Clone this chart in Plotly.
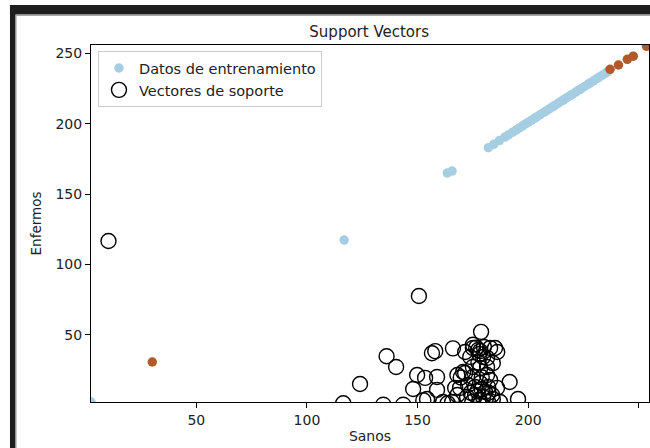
import plotly.graph_objects as go

# Training samples, split by class
clase0_x = [2.4, 116.8, 163.4, 165.6, 182.0, 184.5, 187.0, 189.5, 191.0, 193.0, 194.5, 196.0,
            197.5, 199.0, 200.0, 201.5, 203.0, 204.0, 205.5, 207.0, 208.0, 209.5, 211.0, 212.0,
            213.5, 215.0, 216.0, 217.5, 219.0, 220.0, 221.5, 223.0, 224.0, 225.5, 227.0, 228.0,
            229.5, 231.0, 232.0, 233.5, 235.0, 236.0]
clase0_y = [2.4, 117.4, 165.0, 166.4, 183.0, 185.5, 188.0, 190.5, 192.0, 194.0, 195.5, 197.0,
            198.5, 200.0, 201.0, 202.5, 204.0, 205.0, 206.5, 208.0, 209.0, 210.5, 212.0, 213.0,
            214.5, 216.0, 217.0, 218.5, 220.0, 221.0, 222.5, 224.0, 225.0, 226.5, 228.0, 229.0,
            230.5, 232.0, 233.0, 234.5, 236.0, 237.0]

clase1_x = [30.1, 237.0, 240.8, 244.8, 247.5, 253.5]
clase1_y = [30.8, 238.6, 241.7, 245.7, 248.0, 255.0]

# Support vectors
sv_x = [10.3, 150.6, 124.0, 116.4, 136.0, 140.3, 134.5, 143.5, 149.8, 153.4, 158.8, 148.0,
        158.8, 154.3, 152.6, 156.5, 158.0, 166.0, 178.7, 191.6, 195.4, 163.6, 168.0, 170.6,
        167.0, 168.0, 171.5, 175.0, 177.4, 178.3, 182.8, 185.0, 186.0, 173.8, 179.6, 181.4,
        175.0, 176.5, 180.0, 178.0, 175.0, 178.3, 181.4, 169.5, 171.5, 175.0, 181.4, 182.8,
        169.2, 172.8, 178.3, 181.9, 185.9, 172.4, 176.0, 179.6, 183.7, 174.7, 181.9, 187.3,
        165.6, 161.5, 177.0, 180.5, 178.0, 184.0, 176.0, 179.0, 182.0, 174.0, 179.0, 177.5,
        184.0]
sv_y = [116.7, 77.7, 15.2, 1.5, 34.9, 27.3, 0.5, 0.5, 21.6, 19.5, 20.2, 11.6,
        11.0, 4.5, 3.6, 37.0, 38.5, 40.5, 52.2, 16.6, 4.5, 1.5, 21.6, 23.7,
        12.4, 7.4, 37.9, 40.7, 39.3, 38.5, 40.7, 40.7, 37.9, 34.4, 34.4, 33.7,
        43.0, 41.0, 41.5, 36.5, 27.3, 26.6, 27.3, 19.8, 23.0, 20.2, 21.6, 18.0,
        12.4, 14.5, 15.9, 13.1, 12.4, 6.0, 7.4, 6.0, 7.4, 2.4, 2.4, 2.4,
        2.4, 2.4, 10.0, 9.5, 4.0, 4.5, 13.0, 11.5, 9.0, 9.0, 20.0, 30.5,
        30.0]

x_ticks = [50, 100, 150, 200, 250]
y_ticks = [50, 100, 150, 200, 250]

FONT = "DejaVu Sans"

fig = go.Figure()
fig.add_trace(go.Scatter(
    x=clase0_x, y=clase0_y, mode="markers", name="Datos de entrenamiento",
    marker=dict(color="#a6cee3", size=9.5, line=dict(width=0)),
))
fig.add_trace(go.Scatter(
    x=clase1_x, y=clase1_y, mode="markers", name="Datos de entrenamiento",
    showlegend=False,
    marker=dict(color="#b15928", size=9.5, line=dict(width=0)),
))
fig.add_trace(go.Scatter(
    x=sv_x, y=sv_y, mode="markers", name="Vectores de soporte",
    marker=dict(symbol="circle-open", color="black", size=15, line=dict(width=1.4)),
))

# Dark window frame along the top and left edges
frame = "#1e1e1e"
shapes = [
    dict(type="rect", xref="paper", yref="paper", x0=-0.1452, x1=1.2, y0=1.0854, y1=1.112,
         fillcolor=frame, line=dict(width=0), layer="above"),
    dict(type="rect", xref="paper", yref="paper", x0=-0.1452, x1=-0.1353, y0=-0.2, y1=1.112,
         fillcolor=frame, line=dict(width=0), layer="above"),
    dict(type="line", xref="paper", yref="paper", x0=-0.1344, x1=-0.1344, y0=-0.2, y1=1.084,
         line=dict(color="#9a9a9a", width=1), layer="above"),
    dict(type="line", xref="paper", yref="paper", x0=-0.1344, x1=1.2, y0=1.083, y1=1.083,
         line=dict(color="#9a9a9a", width=1), layer="above"),
]

axis_common = dict(
    showgrid=False, zeroline=False, showline=True, linecolor="black", linewidth=1,
    mirror=True, ticks="outside", ticklen=5, tickcolor="black", tickwidth=1,
    tickfont=dict(family=FONT, size=14, color="#222222"),
)

fig.update_layout(
    width=650, height=448,
    margin=dict(l=91, r=1, t=45, b=46),
    paper_bgcolor="white", plot_bgcolor="white",
    title=dict(text="Support Vectors", x=0.568, xanchor="center", y=1 - 32 / 448,
               yanchor="middle", font=dict(family=FONT, size=15, color="#222222")),
    xaxis=dict(range=[2.4, 254.6], tickvals=x_ticks,
               title=dict(text="Sanos", standoff=4, font=dict(family=FONT, size=14, color="#222222")),
               **axis_common),
    yaxis=dict(range=[2.4, 255.9], tickvals=y_ticks,
               title=dict(text="Enfermos", standoff=10, font=dict(family=FONT, size=13.5, color="#222222")),
               **axis_common),
    legend=dict(x=0.0125, y=0.983, xanchor="left", yanchor="top", tracegroupgap=0,
                bgcolor="rgba(255,255,255,0.85)", bordercolor="#cccccc", borderwidth=1,
                font=dict(family=FONT, size=14.5, color="#222222")),
    shapes=shapes,
    showlegend=True,
)

fig.write_html("out.html")
